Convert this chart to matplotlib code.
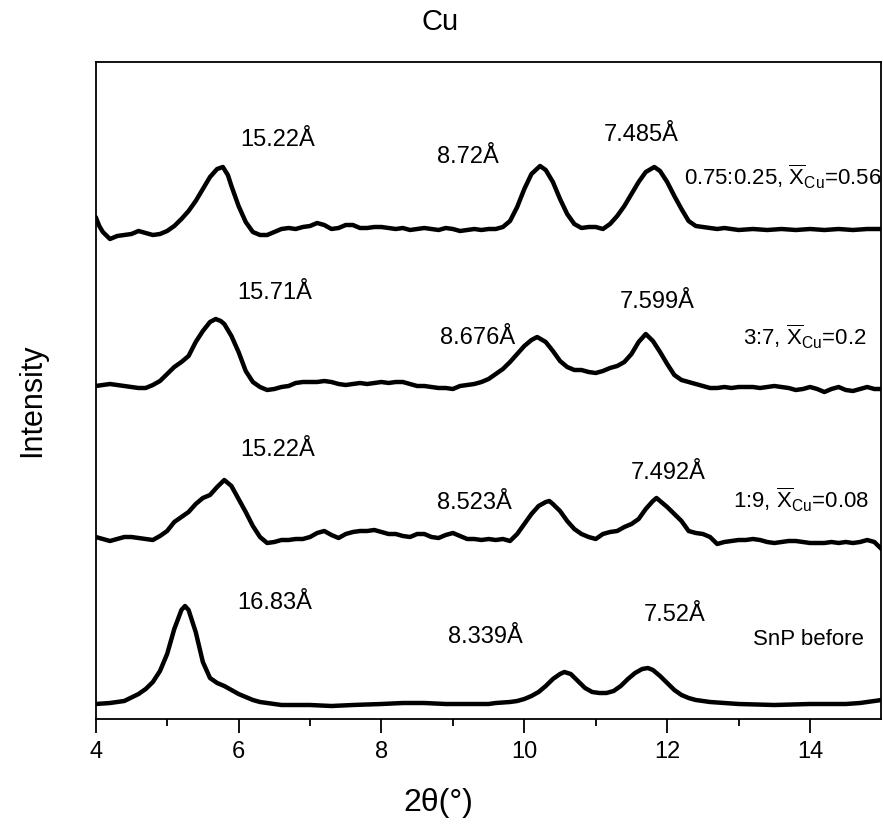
import matplotlib
matplotlib.use("Agg")
import matplotlib.pyplot as plt

plt.rcParams['font.family'] = ['Liberation Sans', 'DejaVu Sans']
plt.rcParams['mathtext.fontset'] = 'custom'
plt.rcParams['mathtext.rm'] = 'Liberation Sans'
plt.rcParams['mathtext.it'] = 'Liberation Sans:italic'

# ---- diffraction patterns (2theta in degrees, intensity above each trace's baseline, a.u.) ----
tt_075 = [4.0, 4.05, 4.1, 4.2, 4.3, 4.4, 4.5, 4.6, 4.7, 4.8, 4.9, 5.0, 5.1, 5.2, 5.3, 5.4, 5.5, 5.6,
          5.7, 5.78, 5.85, 5.9, 6.0, 6.1, 6.2, 6.3, 6.4, 6.5, 6.6, 6.7, 6.8, 6.9, 7.0, 7.1, 7.2, 7.3,
          7.4, 7.5, 7.6, 7.7, 7.8, 7.9, 8.0, 8.1, 8.2, 8.3, 8.4, 8.5, 8.6, 8.7, 8.8, 8.9, 9.0, 9.1,
          9.2, 9.3, 9.4, 9.5, 9.6, 9.7, 9.8, 9.9, 10.0, 10.1, 10.22, 10.3, 10.4, 10.5, 10.6, 10.7,
          10.8, 10.9, 11.0, 11.1, 11.2, 11.3, 11.4, 11.5, 11.6, 11.7, 11.82, 11.9, 12.0, 12.1, 12.2,
          12.3, 12.4, 12.5, 12.6, 12.7, 12.8, 12.9, 13.0, 13.2, 13.4, 13.6, 13.8, 14.0, 14.2, 14.4,
          14.6, 14.8, 15.0]
int_075 = [14, 5, -1, -8, -5, -4, -3, 0, -2, -4, -3, 0, 5, 12, 20, 30, 42, 54,
           62, 64, 56, 45, 25, 9, -1, -4, -4, -1, 2, 3, 2, 4, 5, 8, 6, 2,
           3, 6, 6, 3, 3, 4, 4, 3, 2, 3, 1, 2, 3, 2, 1, 3, 2, 0,
           1, 2, 1, 2, 2, 4, 10, 24, 42, 57, 65, 61, 49, 32, 17, 7,
           3, 4, 4, 2, 7, 15, 25, 37, 49, 59, 64, 60, 49, 35, 22,
           10, 5, 4, 3, 2, 3, 2, 1, 2, 1, 2, 1, 2, 1, 2,
           1, 2, 2]

tt_37 = [4.0, 4.1, 4.2, 4.3, 4.4, 4.5, 4.6, 4.7, 4.8, 4.9, 5.0, 5.1, 5.2, 5.3, 5.4, 5.5, 5.6, 5.68,
         5.75, 5.8, 5.9, 6.0, 6.1, 6.2, 6.3, 6.4, 6.5, 6.6, 6.7, 6.8, 6.9, 7.0, 7.1, 7.2, 7.3, 7.4,
         7.5, 7.6, 7.7, 7.8, 7.9, 8.0, 8.1, 8.2, 8.3, 8.4, 8.5, 8.6, 8.7, 8.8, 8.9, 9.0, 9.1, 9.2,
         9.3, 9.4, 9.5, 9.6, 9.7, 9.8, 9.9, 10.0, 10.1, 10.18, 10.3, 10.4, 10.5, 10.6, 10.7, 10.8,
         10.9, 11.0, 11.1, 11.2, 11.3, 11.4, 11.5, 11.6, 11.7, 11.8, 11.9, 12.0, 12.1, 12.2, 12.3,
         12.4, 12.5, 12.6, 12.7, 12.8, 12.9, 13.0, 13.1, 13.2, 13.3, 13.4, 13.5, 13.6, 13.7, 13.8,
         13.9, 14.0, 14.1, 14.2, 14.3, 14.4, 14.5, 14.6, 14.7, 14.8, 14.9, 15.0]
int_37 = [0, 1, 2, 1, 0, -1, -2, -2, 1, 5, 12, 19, 24, 30, 44, 55, 64, 67,
          65, 62, 50, 34, 15, 4, -1, -4, -3, -1, 0, 3, 4, 4, 4, 5, 4, 2,
          1, 2, 3, 2, 3, 4, 3, 4, 4, 2, 0, 0, -1, -2, -2, -3, 0, 1,
          2, 4, 7, 12, 17, 24, 32, 40, 46, 49, 44, 35, 25, 19, 16, 16,
          14, 13, 15, 18, 20, 24, 32, 44, 52, 45, 34, 22, 11, 6, 4,
          2, 0, -2, -2, -1, -2, -1, -1, -1, -2, -1, 0, -1, -2, -4,
          -3, -1, -3, -6, -3, -1, -4, -5, -3, -1, -3, -3]

tt_19 = [4.0, 4.1, 4.2, 4.3, 4.4, 4.5, 4.6, 4.7, 4.8, 4.9, 5.0, 5.1, 5.2, 5.3, 5.4, 5.5, 5.6, 5.7,
         5.8, 5.9, 6.0, 6.1, 6.2, 6.3, 6.4, 6.5, 6.6, 6.7, 6.8, 6.9, 7.0, 7.1, 7.2, 7.3, 7.4, 7.5,
         7.6, 7.7, 7.8, 7.9, 8.0, 8.1, 8.2, 8.3, 8.4, 8.5, 8.6, 8.7, 8.8, 8.9, 9.0, 9.1, 9.2, 9.3,
         9.4, 9.5, 9.6, 9.7, 9.8, 9.9, 10.0, 10.1, 10.2, 10.3, 10.35, 10.4, 10.5, 10.6, 10.7, 10.8,
         10.9, 11.0, 11.1, 11.2, 11.3, 11.4, 11.5, 11.6, 11.7, 11.8, 11.85, 11.9, 12.0, 12.1, 12.2,
         12.3, 12.4, 12.5, 12.6, 12.7, 12.8, 12.9, 13.0, 13.1, 13.2, 13.3, 13.4, 13.5, 13.6, 13.7,
         13.8, 13.9, 14.0, 14.1, 14.2, 14.3, 14.4, 14.5, 14.6, 14.7, 14.8, 14.9, 15.0]
int_19 = [2, 0, -2, 0, 2, 2, 1, 0, -1, 3, 8, 17, 22, 27, 35, 41, 44, 52,
          59, 53, 40, 27, 13, 2, -4, -3, -1, -1, 0, 0, 2, 6, 8, 4, 1, 5,
          7, 8, 8, 9, 7, 5, 5, 3, 2, 5, 5, 2, 1, 4, 6, 3, 0, 0,
          -1, 0, -1, 0, -2, 5, 15, 25, 33, 37, 38, 35, 28, 18, 10, 5,
          2, 0, 5, 7, 8, 12, 15, 20, 30, 38, 41, 38, 32, 25, 18,
          8, 6, 5, 2, -5, -3, -2, -1, -1, 0, -1, -3, -4, -3, -2,
          -2, -3, -4, -4, -4, -3, -4, -3, -4, -3, -1, -3, -10]

tt_snp = [4.0, 4.2, 4.4, 4.6, 4.7, 4.8, 4.9, 5.0, 5.1, 5.2, 5.25, 5.3, 5.4, 5.5, 5.6, 5.7, 5.8, 5.9,
          6.0, 6.1, 6.2, 6.3, 6.5, 6.6, 6.8, 7.0, 7.3, 7.6, 8.0, 8.3, 8.6, 8.9, 9.2, 9.5, 9.6, 9.8,
          9.9, 10.0, 10.1, 10.2, 10.3, 10.4, 10.5, 10.56, 10.65, 10.75, 10.85, 10.95, 11.05, 11.15,
          11.25, 11.35, 11.45, 11.55, 11.65, 11.73, 11.8, 11.9, 12.0, 12.1, 12.2, 12.3, 12.4, 12.6,
          12.8, 13.0, 13.5, 14.0, 14.5, 14.7, 14.8, 14.9, 15.0]
int_snp = [0, 1, 3, 10, 15, 22, 33, 50, 75, 94, 98, 94, 72, 42, 26, 21, 18, 14,
           10, 7, 4, 2, 0, -1, -1, -1, -2, -1, 0, 1, 1, 0, 0, 0, 1, 2,
           3, 5, 8, 12, 18, 25, 30, 32, 30, 23, 16, 12, 11, 11,
           13, 18, 25, 31, 35, 36, 34, 28, 21, 14, 9, 6, 4, 2,
           1, 0, -1, 0, 0, 1, 2, 3, 4]

# vertical stacking of the traces (bottom to top)
traces = [(tt_snp, int_snp), (tt_19, int_19), (tt_37, int_37), (tt_075, int_075)]
offsets = [15, 180, 333, 488]

# d-spacing labels: (2theta, height, text)
peak_labels = [
    (6.55, 580, "15.22Å"), (9.21, 563, "8.72Å"), (11.63, 585, "7.485Å"),
    (6.50, 427, "15.71Å"), (9.35, 382, "8.676Å"), (11.86, 418, "7.599Å"),
    (6.54, 270, "15.22Å"), (9.30, 217, "8.523Å"), (12.02, 247, "7.492Å"),
    (6.50, 117, "16.83Å"), (9.46, 83, "8.339Å"), (12.11, 105, "7.52Å"),
]
# sample labels: (2theta, height, text)
sample_labels = [
    (12.23, 543, r"0.75:0.25, $\overline{\mathrm{X}}_{\mathrm{Cu}}$=0.56"),
    (13.06, 383, r"3:7, $\overline{\mathrm{X}}_{\mathrm{Cu}}$=0.2"),
    (12.92, 220, r"1:9, $\overline{\mathrm{X}}_{\mathrm{Cu}}$=0.08"),
    (13.20, 80, "SnP before"),
]

W, H = 883, 829
fig = plt.figure(figsize=(W / 100, H / 100), dpi=100)
left, right, top, bottom = 95.7, 881.5, 63, 720
ax = fig.add_axes([left / W, 1 - bottom / H, (right - left) / W, (bottom - top) / H])

for (tt, inten), off in zip(traces, offsets):
    ax.plot(tt, [v + off for v in inten], color="black", lw=3.2,
            solid_joinstyle="round", solid_capstyle="round")

for x, y, s in peak_labels:
    ax.text(x, y, s, ha="center", va="center", fontsize=17)
for x, y, s in sample_labels:
    ax.text(x, y, s, ha="left", va="center", fontsize=16)

ax.set_xlim(4, 15)
ax.set_ylim(0, bottom - top)
ax.set_xticks([4, 6, 8, 10, 12, 14])
ax.set_xticks([5, 7, 9, 11, 13], minor=True)
ax.set_yticks([])
ax.tick_params(axis="x", which="major", direction="out", length=10, width=1.3,
               labelsize=17, pad=5)
ax.tick_params(axis="x", which="minor", direction="out", length=5, width=1.3)
for sp in ax.spines.values():
    sp.set_linewidth(1.3)

fig.text(440 / W, 1 - 22 / H, "Cu", ha="center", va="center", fontsize=21)
fig.text(438 / W, 1 - 803 / H, "2θ(°)", ha="center", va="center", fontsize=23)
fig.text(32 / W, 1 - 400 / H, "Intensity", ha="center", va="center",
         rotation=90, fontsize=22)

fig.savefig("out.png", dpi=100)
